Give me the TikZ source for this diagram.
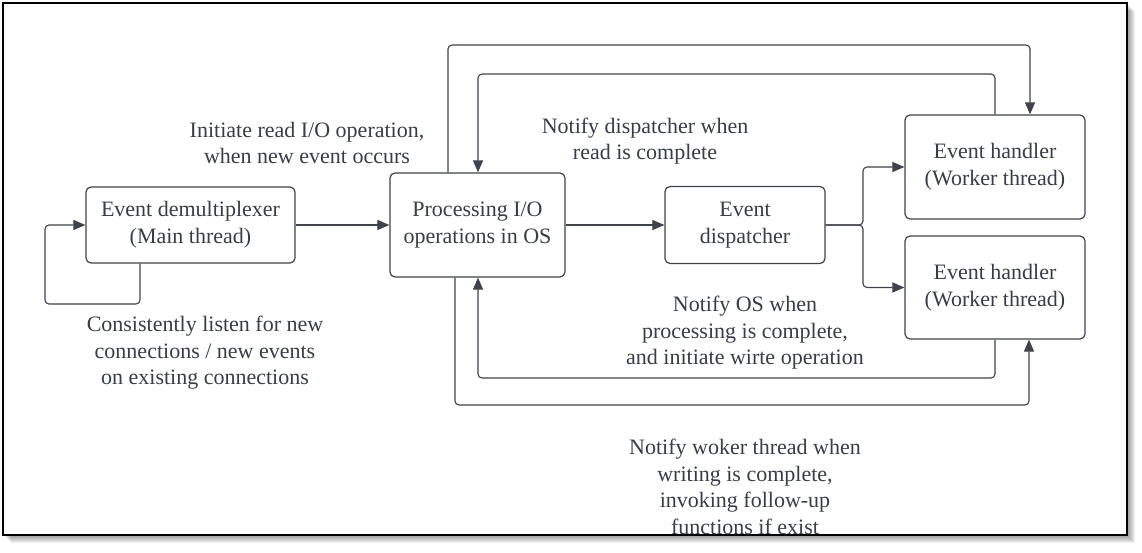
\documentclass[tikz,border=0pt]{standalone}
\usepackage{fontspec}
\setmainfont{Liberation Serif}
\usetikzlibrary{arrows.meta}
\definecolor{txt}{RGB}{55,62,72}
\definecolor{ln}{RGB}{62,67,76}
\begin{document}
\begin{tikzpicture}[x=1pt,y=-1pt,
  box/.style={draw=ln, line width=1.2pt, rounded corners=5pt, text=txt, align=center, inner sep=0pt, font=\fontsize{22}{27}\selectfont},
  lbl/.style={text=txt, align=center, inner sep=0pt, font=\fontsize{22}{26.5}\selectfont},
  arr/.style={draw=ln, line width=1.1pt, rounded corners=4pt, -{Triangle[length=12pt,width=10pt]}},
]
\useasboundingbox (0,0) rectangle (1142,553);
% shadow
\foreach \i in {1,...,8}{
  \fill[black, opacity=0.06] (3+\i,3+\i) rectangle (1127+\i,535+\i);
}
\fill[white] (3,3) rectangle (1127,535);
\draw[line width=2.4pt] (3,3) rectangle (1127,535);

\node[box, minimum width=209pt, minimum height=76pt] (demux) at (190.5,225) {Event demultiplexer\\(Main thread)};
\node[box, minimum width=175pt, minimum height=104pt] (proc) at (477.5,225) {Processing I/O\\operations in OS};
\node[box, minimum width=160pt, minimum height=77pt] (disp) at (745,225) {Event\\dispatcher};
\node[box, minimum width=180pt, minimum height=104pt] (h1) at (995,167) {Event handler\\(Worker thread)};
\node[box, minimum width=180pt, minimum height=103pt] (h2) at (995,287.5) {Event handler\\(Worker thread)};

\coordinate (lb) at (140,263);
\coordinate (l1) at (45,304);
\coordinate (br) at (863,225);
\coordinate (ot1) at (448,45);
\coordinate (ot2) at (1030,45);
\coordinate (it1) at (995,74);
\coordinate (it2) at (478,74);
\coordinate (ib1) at (995,378);
\coordinate (ib2) at (478,378);
\coordinate (ob1) at (455,405);
\coordinate (ob2) at (1029,405);

\draw[arr] (demux.east) -- (proc.west);
\draw[arr] (demux.south -| lb) |- (l1) |- (demux.west);
\draw[arr] (proc.east) -- (disp.west);
\draw[arr] (disp.east) -- (br) |- (h1.west);
\draw[arr] (disp.east) -- (br) |- (h2.west);
\draw[arr] (proc.north -| ot1) -- (ot1) -- (ot2) -- (h1.north -| ot2);
\draw[arr] (h1.north) -- (it1) -- (it2) -- (proc.north -| it2);
\draw[arr] (h2.south) -- (ib1) -- (ib2) -- (proc.south -| ib2);
\draw[arr] (proc.south -| ob1) -- (ob1) -- (ob2) -- (h2.south -| ob2);

\node[lbl] (t1) at (307,143) {Initiate read I/O operation,\\when new event occurs};
\node[lbl] (t2) at (645,141) {Notify dispatcher when\\read is complete};
\node[lbl] (t3) at (205,353) {Consistently listen for new\\connections / new events\\on existing connections};
\node[lbl] (t4) at (745,333) {Notify OS when\\processing is complete,\\and initiate wirte operation};
\node[lbl] (t5) at (745,487) {Notify woker thread when\\writing is complete,\\invoking follow-up\\functions if exist};
\end{tikzpicture}
\end{document}
